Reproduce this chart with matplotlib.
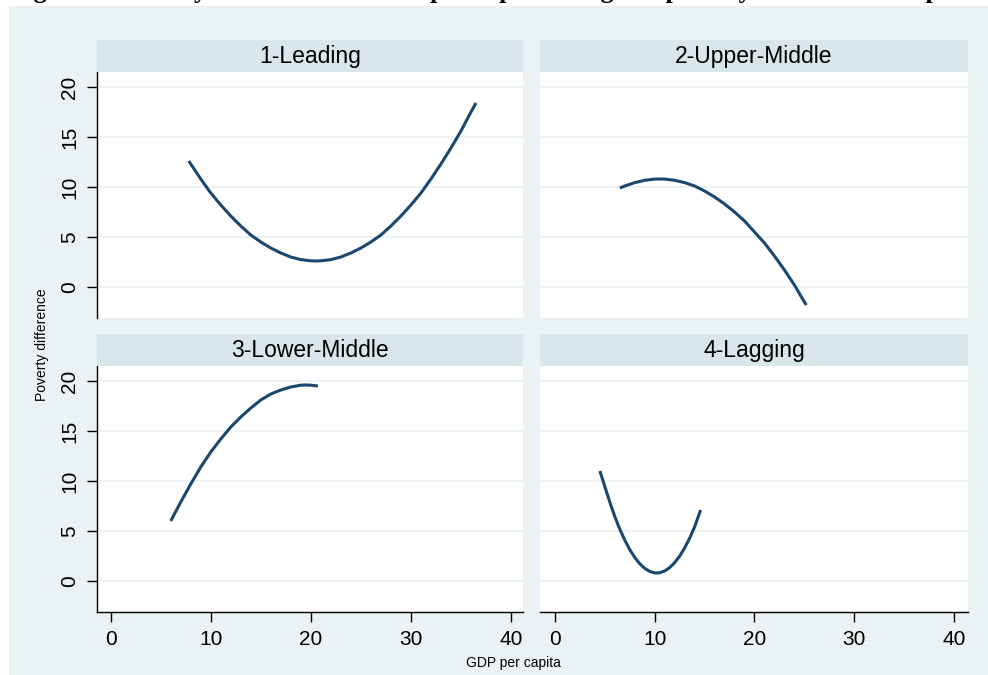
import matplotlib
matplotlib.use("Agg")
import matplotlib.pyplot as plt
from matplotlib.patches import Rectangle

plt.rcParams['font.family'] = ['Liberation Sans', 'DejaVu Sans']

# ---- data ----
panel_titles = ["1-Leading", "2-Upper-Middle", "3-Lower-Middle", "4-Lagging"]

leading_x = [7.8, 8, 9, 10, 11, 12, 13, 14, 15, 16, 17, 18, 19, 20, 20.5, 21, 22, 23, 24,
             25, 26, 27, 28, 29, 30, 31, 32, 33, 34, 35, 36, 36.5]
leading_y = [12.6, 12.3, 10.8, 9.4, 8.2, 7.1, 6.1, 5.2, 4.5, 3.9, 3.4, 3.0, 2.74, 2.62, 2.6,
             2.62, 2.74, 3.0, 3.4, 3.9, 4.5, 5.2, 6.1, 7.1, 8.2, 9.4, 10.8, 12.3, 13.9,
             15.6, 17.5, 18.4]

upper_x = [6.5, 7, 8, 9, 10, 10.5, 11, 12, 13, 14, 15, 16, 17, 18, 19, 20, 21, 22, 23, 24,
           25, 25.2]
upper_y = [9.9, 10.1, 10.44, 10.67, 10.79, 10.8, 10.79, 10.67, 10.44, 10.1, 9.6, 9.0, 8.3,
           7.5, 6.6, 5.5, 4.4, 3.1, 1.7, 0.2, -1.5, -1.8]

lower_x = [6, 7, 8, 9, 10, 11, 12, 13, 14, 15, 16, 17, 18, 19, 19.5, 20, 20.7]
lower_y = [6.0, 7.9, 9.7, 11.4, 12.9, 14.2, 15.4, 16.4, 17.3, 18.1, 18.7, 19.1, 19.4, 19.58,
           19.6, 19.58, 19.5]

lagging_x = [4.5, 5, 5.5, 6, 6.5, 7, 7.5, 8, 8.5, 9, 9.5, 10, 10.2, 10.5, 11, 11.5, 12,
             12.5, 13, 13.5, 14, 14.6]
lagging_y = [11.0, 9.45, 7.87, 6.44, 5.18, 4.08, 3.13, 2.35, 1.72, 1.26, 0.96, 0.81, 0.8,
             0.83, 1.0, 1.34, 1.84, 2.49, 3.31, 4.28, 5.42, 7.1]

series_x = [leading_x, upper_x, lower_x, lagging_x]
series_y = [leading_y, upper_y, lower_y, lagging_y]

y_ticks = [0, 5, 10, 15, 20]
x_ticks = [0, 10, 20, 30, 40]

title_text = "Figure 3: Poverty difference vs. GDP per capita in highest poverty states over the period"
x_label = "GDP per capita"
y_label = "Poverty difference"

# ---- style ----
W, H = 988, 675
BG = "#EAF2F3"
STRIP = "#D9E6EB"
LINE = "#1A476F"

fig = plt.figure(figsize=(W / 100, H / 100), dpi=100)
fig.patch.set_facecolor("white")
fig.add_artist(Rectangle((9 / W, 0), 1 - 9 / W, 1 - 6 / H, transform=fig.transFigure,
                         facecolor=BG, edgecolor="none", zorder=-10))

def fr(x0, y0, x1, y1):
    return [x0 / W, 1 - y1 / H, (x1 - x0) / W, (y1 - y0) / H]

cols = [(97, 523), (540, 968)]
rows = [(72, 318), (366, 612)]
strip_h = 32
xlims = [(-1.37, 41.2), (-1.5, 41.4)]

for i in range(4):
    r, c = divmod(i, 2)
    x0, x1 = cols[c]
    y0, y1 = rows[r]
    ax = fig.add_axes(fr(x0, y0, x1, y1))
    ax.set_facecolor("white")
    ax.plot(series_x[i], series_y[i], color=LINE, lw=2.2, solid_capstyle="butt",
            solid_joinstyle="round", zorder=3)
    ax.set_xlim(*xlims[c])
    ax.set_ylim(-3.1, 21.5)
    ax.set_yticks(y_ticks)
    ax.set_xticks(x_ticks)
    ax.yaxis.grid(True, color=BG, lw=1.3)
    ax.set_axisbelow(True)
    for s in ["top", "right"]:
        ax.spines[s].set_visible(False)
    ax.spines["left"].set_visible(c == 0)
    ax.spines["bottom"].set_visible(r == 1)
    for s in ["left", "bottom"]:
        ax.spines[s].set_color("black")
        ax.spines[s].set_linewidth(1.0)
    ax.tick_params(axis="y", left=(c == 0), labelleft=(c == 0), length=7, width=1,
                   pad=6, labelsize=15)
    ax.tick_params(axis="x", bottom=(r == 1), labelbottom=(r == 1), length=7, width=1,
                   pad=6, labelsize=15)
    if c == 0:
        for lab in ax.get_yticklabels():
            lab.set_rotation(90)
            lab.set_va("center")
    # strip
    sax = fig.add_axes(fr(x0, y0 - strip_h, x1, y0))
    sax.set_facecolor(STRIP)
    sax.set_xticks([])
    sax.set_yticks([])
    for s in sax.spines.values():
        s.set_visible(False)
    sax.text(0.5, 0.47, panel_titles[i], ha="center", va="center", fontsize=16.5,
             transform=sax.transAxes)

fig.text(513 / W, 1 - 663 / H, x_label, ha="center", va="center", fontsize=10)
fig.text(42 / W, 1 - 345 / H, y_label, ha="center", va="center", rotation=90, fontsize=10)
fig.text(10 / W, 1 + 2 / H, title_text, ha="left", va="baseline", fontsize=19,
         fontweight="bold", family=["Liberation Serif", "DejaVu Serif"])

fig.savefig("out.png", dpi=100, facecolor="white")
